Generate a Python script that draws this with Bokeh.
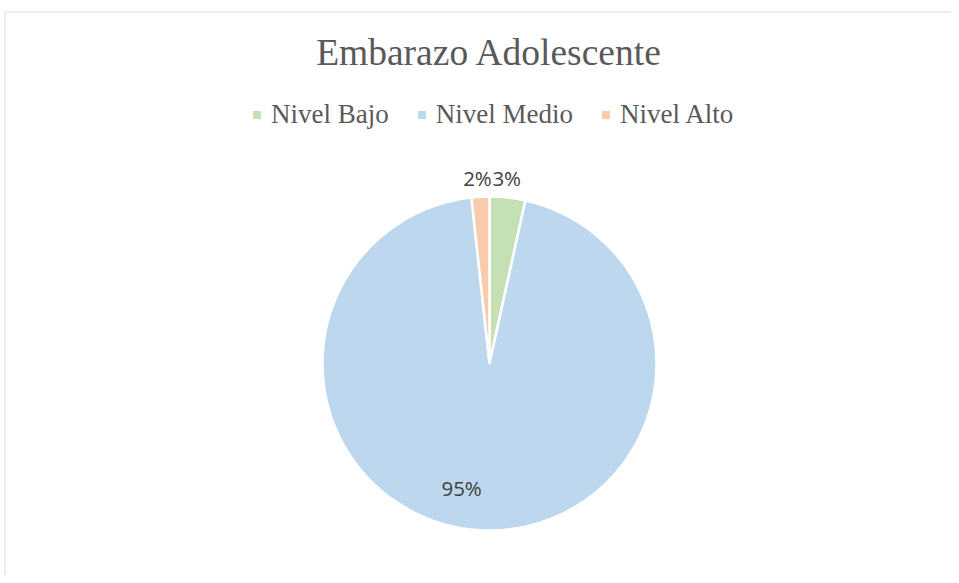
import numpy as np
from bokeh.plotting import figure
from bokeh.models import Range1d, ColumnDataSource, Legend, LegendItem
from bokeh.core.properties import value
from bokeh.embed import file_html
from bokeh.resources import INLINE

# ---- data ----
title_text = "Embarazo Adolescente"
categories = ["Nivel Bajo", "Nivel Medio", "Nivel Alto"]
counts = [2, 55, 1]
colors = ["#C5E0B4", "#BDD7EE", "#F8CBAD"]

# ---- layout ----
W, H = 951, 575
cx, cy, r = 489, 212, 167
label_radius = [1.115, 0.765, 1.115]
label_angle_shift_deg = [0.9, -9.5, 0.6]

p = figure(width=W, height=H, x_range=Range1d(0, W), y_range=Range1d(0, H),
           output_backend="svg", toolbar_location=None, min_border=0)
p.axis.visible = False
p.grid.visible = False
p.outline_line_color = None
p.background_fill_color = "white"
p.border_fill_color = "white"

# chart border (light grey, partially visible like the reference)
p.line(x=[4.5, 4.5, W], y=[0, H - 11.5, H - 11.5], line_color="#D9D9D9", line_width=1)

vals = np.array(counts, dtype=float)
frac = vals / vals.sum()
cum = np.concatenate([[0.0], np.cumsum(frac)])
start = np.pi / 2 - cum[1:] * 2 * np.pi
end = np.pi / 2 - cum[:-1] * 2 * np.pi
mid = (start + end) / 2

src = ColumnDataSource(dict(start=start, end=end, color=colors, cat=categories))
wr = p.wedge(x=cx, y=cy, radius=r, start_angle="start", end_angle="end",
             fill_color="color", line_color="white", line_width=2.5, source=src)

# percentage labels
ang = mid + np.deg2rad(label_angle_shift_deg)
lx = cx + np.array(label_radius) * r * np.cos(ang)
ly = cy + np.array(label_radius) * r * np.sin(ang)
pct = [f"{round(f * 100)}%" for f in frac]
p.text(x=lx, y=ly, text=pct, text_font=value("Open Sans"), text_font_size="20.5px",
       text_color="#404040", text_align="center", text_baseline="middle")

# title
p.text(x=[cx], y=[H - 52], text=[title_text], text_font=value("Liberation Serif"),
       text_font_size="37.5px", text_color="#595959", text_align="center",
       text_baseline="middle")

legend = Legend(items=[LegendItem(label=c, renderers=[wr], index=i) for i, c in enumerate(categories)],
                orientation="horizontal", location=(250, 445),
                glyph_width=13, glyph_height=13, label_standoff=8, spacing=26,
                label_text_font="Liberation Serif", label_text_font_size="27px",
                label_text_color="#595959", padding=0, margin=0,
                border_line_color=None, background_fill_alpha=0)
p.add_layout(legend, "center")

open("out.html", "w").write(file_html(p, INLINE))
